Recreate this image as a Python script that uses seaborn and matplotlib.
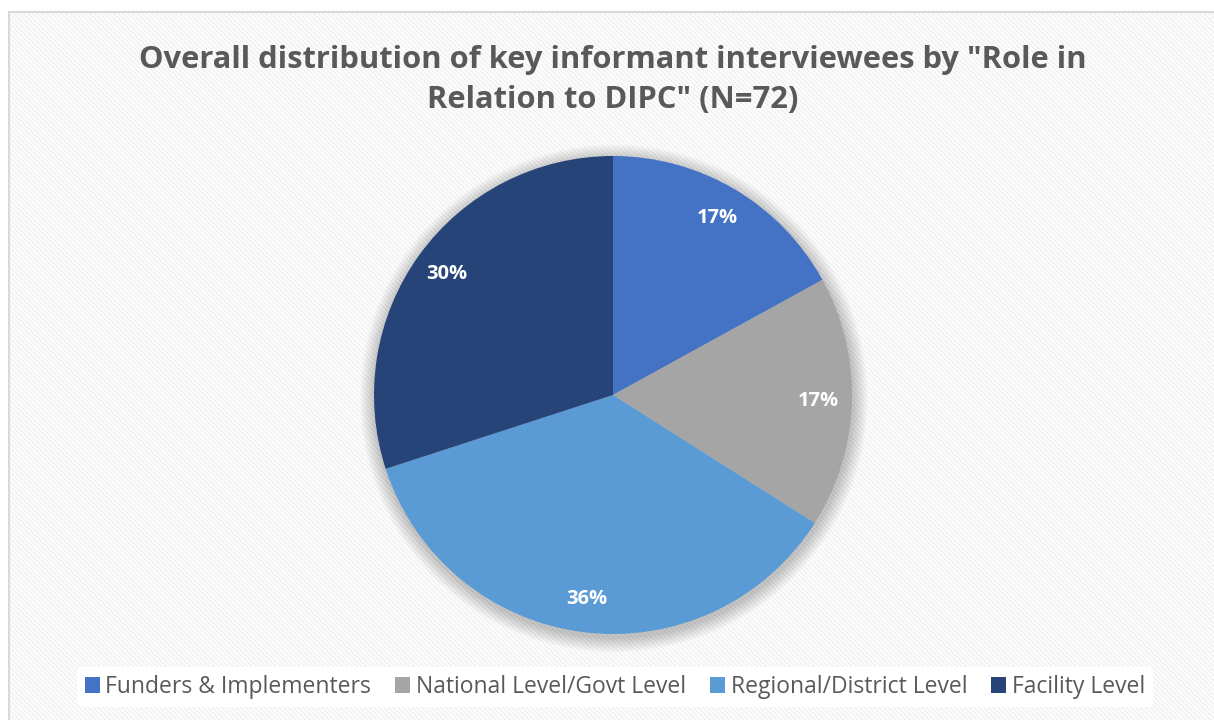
import matplotlib
matplotlib.use("Agg")
import matplotlib.pyplot as plt
import seaborn as sns
from matplotlib.patches import Rectangle, Circle

categories = ["Funders & Implementers", "National Level/Govt Level",
              "Regional/District Level", "Facility Level"]
shares = [17, 17, 36, 30]
colors = ["#4472C4", "#A5A5A5", "#5B9BD5", "#264478"]
title = 'Overall distribution of key informant interviewees by "Role in\nRelation to DIPC" (N=72)'

sns.set_theme(style="white")
plt.rcParams['font.family'] = ['Open Sans', 'DejaVu Sans']
plt.rcParams['hatch.linewidth'] = 1.2

W, H = 1214, 720
fig = plt.figure(figsize=(W / 100, H / 100), dpi=100)
fig.patch.set_facecolor("white")

# background panel with diagonal stripes
bg = Rectangle((9 / W, 0), 1 - 9 / W, 1 - 12 / H, transform=fig.transFigure,
               facecolor="#FFFFFF", edgecolor="none", zorder=0)
fig.add_artist(bg)
stripes = Rectangle((9 / W, 0), 1 - 9 / W, 1 - 12 / H, transform=fig.transFigure,
                    facecolor="none", edgecolor="#F1F1F1", linewidth=0,
                    hatch="\\" * 7, zorder=0.1)
fig.add_artist(stripes)
border = Rectangle((9 / W, -0.01), 1.02 - 9 / W, 1.01 - 12 / H, transform=fig.transFigure,
                   facecolor="none", edgecolor="#D9D9D9", linewidth=1.5, zorder=0.2)
fig.add_artist(border)

# pie axes: centre (613, 395) px, radius ~239 px
cx, cy, r = 613, H - 395, 239
lim = 1.3
half = r * lim
ax = fig.add_axes([(cx - half) / W, (cy - half) / H, 2 * half / W, 2 * half / H])
ax.set_zorder(2)
ax.axis("off")
ax.patch.set_alpha(0)

# soft shadow
for i in range(14):
    rr = 1.0 + 0.0045 * (14 - i)
    ax.add_patch(Circle((0.004, -0.014), rr, facecolor="#000000", alpha=0.016,
                        edgecolor="none", zorder=0))

wedges, texts, autotexts = ax.pie(
    shares, colors=colors, startangle=90, counterclock=False,
    autopct="%.0f%%", pctdistance=0.86, radius=1.0,
    wedgeprops=dict(linewidth=0), textprops=dict(color="white", fontsize=14.5,
                                                  fontweight="bold"))
ax.set_xlim(-lim, lim)
ax.set_ylim(-lim, lim)

fig.text(613 / W, 1 - 80 / H, title, ha="center", va="center", fontsize=22.2,
         fontweight="bold", color="#595959", linespacing=1.4, zorder=3)

leg = fig.legend(wedges, categories, loc="center", bbox_to_anchor=(615 / W, 1 - 687 / H),
                 ncol=4, frameon=True, fontsize=16.5, handlelength=0.65, handleheight=0.65,
                 handletextpad=0.25, columnspacing=1.05, borderpad=0.35, labelcolor="#595959")
leg.set_zorder(3)
leg.get_frame().set_facecolor("white")
leg.get_frame().set_edgecolor("none")
leg.get_frame().set_alpha(1)

fig.savefig("out.png", dpi=100, facecolor="white")
